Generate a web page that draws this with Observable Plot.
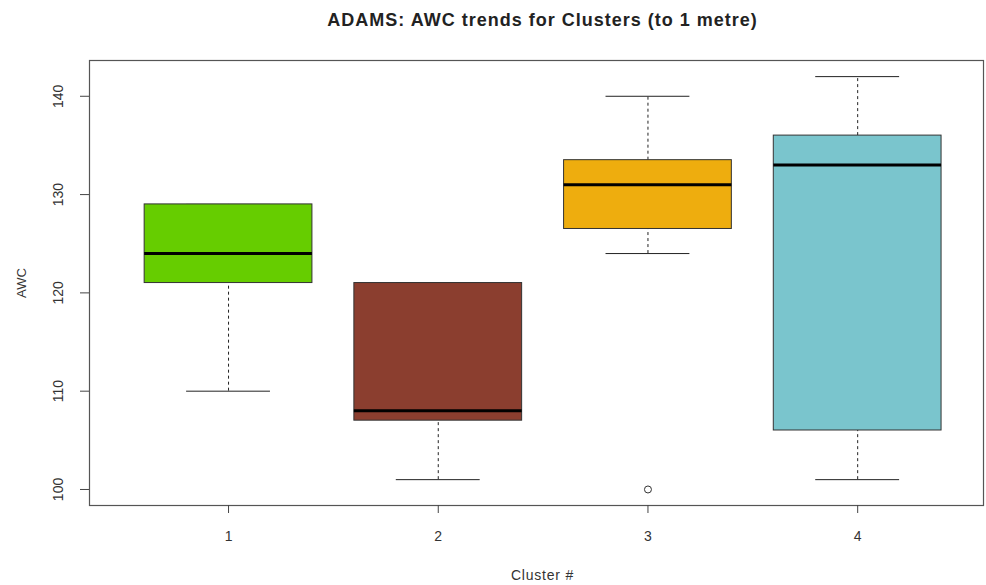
<!DOCTYPE html>
<html><head><meta charset="utf-8">
<script src="https://cdn.jsdelivr.net/npm/d3@7"></script>
<script src="https://cdn.jsdelivr.net/npm/@observablehq/plot@0.6"></script>
<style>
body{margin:0;background:#fff}
.chart-title text{letter-spacing:1px}
.chart-xlabel text{letter-spacing:0.8px}
</style>
</head><body><div id="chart"></div>
<script>
const clusters = [1, 2, 3, 4];
const whiskerLow = [110, 101, 124, 101];
const q1 = [121, 107, 126.5, 106];
const medians = [124, 108, 131, 133];
const q3 = [129, 121, 133.5, 136];
const whiskerHigh = [129, 121, 140, 142];
const outlierCluster = [3];
const outlierValue = [100];
const fills = ["#66CD00", "#8B3E2F", "#EEAD0E", "#7AC5CD"];
const yTicks = [100, 110, 120, 130, 140];
const xTickLabels = ["1", "2", "3", "4"];
const titleText = "ADAMS: AWC trends for Clusters (to 1 metre)";
const xLabel = "Cluster #";
const yLabel = "AWC";

const boxes = clusters.map((c, i) => ({cluster: c, lo: whiskerLow[i], q1: q1[i], med: medians[i], q3: q3[i], hi: whiskerHigh[i], fill: fills[i]}));
const outliers = outlierCluster.map((c, i) => ({cluster: c, value: outlierValue[i]}));
const halfBox = 0.4, halfCap = 0.2;
const font = "'Liberation Sans', Arial, sans-serif";

const chart = Plot.plot({
  width: 986, height: 585,
  marginTop: 60, marginBottom: 80, marginLeft: 89, marginRight: 3,
  style: {fontFamily: font, background: "#fff", overflow: "visible"},
  color: {type: "identity"},
  x: {domain: [0.337, 4.6], axis: null},
  y: {domain: [98.37, 143.64], axis: null},
  marks: [
    Plot.ruleX(boxes, {x: "cluster", y1: "lo", y2: "q1", stroke: "#222", strokeWidth: 1, strokeDasharray: "3,3"}),
    Plot.ruleX(boxes, {x: "cluster", y1: "q3", y2: "hi", stroke: "#222", strokeWidth: 1, strokeDasharray: "3,3"}),
    Plot.ruleY(boxes, {y: "lo", x1: d => d.cluster - halfCap, x2: d => d.cluster + halfCap, stroke: "#222", strokeWidth: 1}),
    Plot.ruleY(boxes, {y: "hi", x1: d => d.cluster - halfCap, x2: d => d.cluster + halfCap, stroke: "#222", strokeWidth: 1}),
    Plot.rect(boxes, {x1: d => d.cluster - halfBox, x2: d => d.cluster + halfBox, y1: "q1", y2: "q3", fill: "fill", stroke: "#333", strokeWidth: 1}),
    Plot.ruleY(boxes, {y: "med", x1: d => d.cluster - halfBox, x2: d => d.cluster + halfBox, stroke: "#000", strokeWidth: 3}),
    Plot.dot(outliers, {x: "cluster", y: "value", r: 3.5, stroke: "#333", fill: "none", strokeWidth: 1}),
    Plot.frame({stroke: "#555", strokeWidth: 1.2}),
    Plot.axisY({ticks: yTicks, tickSize: 9, tickFormat: () => "", label: null, stroke: "#444"}),
    Plot.axisX({ticks: clusters, tickSize: 8, tickFormat: () => "", label: null, stroke: "#444"}),
    Plot.text(yTicks, {y: d => d, text: d => String(d), frameAnchor: "left", dx: -31, rotate: -90, textAnchor: "middle", lineAnchor: "middle", fontSize: 14, fill: "#333"}),
    Plot.text(clusters, {x: d => d, text: (d, i) => xTickLabels[i], frameAnchor: "bottom", dy: 31, textAnchor: "middle", lineAnchor: "middle", fontSize: 14, fill: "#333"}),
    Plot.text([titleText], {text: d => d, frameAnchor: "top", dy: -40, dx: 6, textAnchor: "middle", lineAnchor: "middle", fontSize: 18, fontWeight: "bold", fill: "#222", className: "chart-title"}),
    Plot.text([xLabel], {text: d => d, frameAnchor: "bottom", dy: 70, dx: 6, textAnchor: "middle", lineAnchor: "middle", fontSize: 14, fill: "#333", className: "chart-xlabel"}),
    Plot.text([yLabel], {text: d => d, frameAnchor: "left", dx: -68, rotate: -90, textAnchor: "middle", lineAnchor: "middle", fontSize: 13, fill: "#333"})
  ]
});
document.getElementById("chart").appendChild(chart);
// fallback in case className is unsupported
d3.select(chart).selectAll("text").filter(function(){ return this.textContent === titleText; }).style("letter-spacing", "1px");
d3.select(chart).selectAll("text").filter(function(){ return this.textContent === xLabel; }).style("letter-spacing", "0.8px");
</script>
</body></html>
